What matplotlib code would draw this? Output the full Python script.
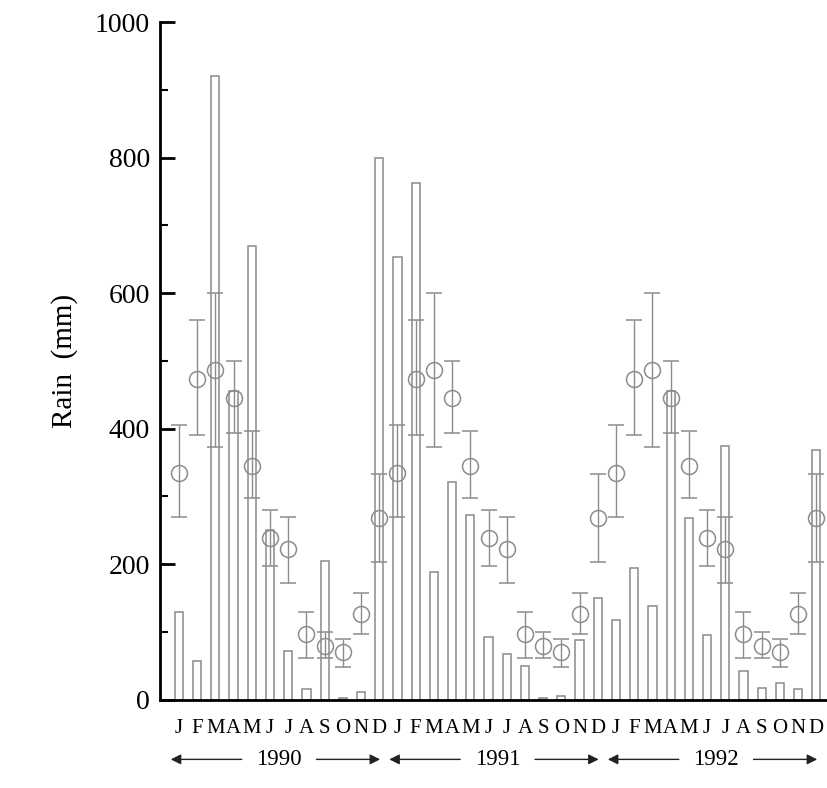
import matplotlib.pyplot as plt
import numpy as np

plt.rcParams['font.family'] = ['Liberation Serif', 'DejaVu Serif']

months = list("JFMAMJJASOND")
years = ["1990", "1991", "1992"]

# monthly rainfall (mm)
rain_1990 = [130, 57, 920, 455, 670, 250, 72, 16, 204, 3, 11, 800]
rain_1991 = [653, 763, 188, 321, 272, 93, 68, 50, 2, 5, 88, 150]
rain_1992 = [117, 195, 139, 455, 268, 96, 374, 43, 18, 25, 16, 368]

# long-term monthly mean and spread
mean_rain = [335, 473, 487, 445, 345, 238, 222, 97, 80, 70, 127, 268]
err_low = [270, 390, 373, 393, 297, 197, 173, 62, 62, 48, 97, 203]
err_high = [405, 560, 600, 500, 397, 280, 270, 130, 100, 90, 157, 333]

rain = rain_1990 + rain_1991 + rain_1992
x = np.arange(len(rain))
mean_all = np.array(mean_rain * 3)
lo_all = np.array(err_low * 3)
hi_all = np.array(err_high * 3)

fig = plt.figure(figsize=(8.28, 7.88), dpi=100)
ax = fig.add_axes([0.193, 0.112, 0.805, 0.860])

ax.bar(x, rain, width=0.45, facecolor='white', edgecolor='#8a8a8a',
       linewidth=1.1, zorder=2)
ax.errorbar(x, mean_all, yerr=[mean_all - lo_all, hi_all - mean_all],
            fmt='o', ms=11.5, mfc='none', mec='#8c8c8c', mew=1.1,
            ecolor='#8c8c8c', elinewidth=1.0, capsize=5.5, capthick=1.6,
            zorder=3)

ax.set_xlim(-1.05, 35.55)
ax.set_ylim(0, 1000)
ax.set_yticks(np.arange(0, 1001, 200))
ax.set_yticks(np.arange(100, 1000, 200), minor=True)
ax.tick_params(axis='y', which='major', direction='in', length=11, width=2,
               labelsize=20, pad=7)
ax.tick_params(axis='y', which='minor', direction='in', length=6, width=1.5)
ax.set_xticks(x)
ax.set_xticklabels(months * 3)
ax.tick_params(axis='x', length=0, labelsize=15, pad=14)
for s in ['top', 'right']:
    ax.spines[s].set_visible(False)
ax.spines['left'].set_linewidth(2)
ax.spines['bottom'].set_linewidth(2)
ax.set_ylabel("Rain  (mm)", fontsize=21, labelpad=12)

# year spans under the month letters
trans = ax.get_xaxis_transform()
for i, yr in enumerate(years):
    c = 12 * i + 5.5
    ax.text(c, -0.088, yr, transform=trans, ha='center', va='center',
            fontsize=16.5, clip_on=False)
    arrow = dict(arrowstyle='-|>', color='#222222', lw=1.0,
                 mutation_scale=15)
    ax.annotate('', xy=(12 * i - 0.6, -0.088), xytext=(c - 1.9, -0.088),
                xycoords=trans, textcoords=trans, arrowprops=arrow,
                annotation_clip=False)
    ax.annotate('', xy=(12 * i + 11.2, -0.088), xytext=(c + 1.9, -0.088),
                xycoords=trans, textcoords=trans, arrowprops=arrow,
                annotation_clip=False)

fig.savefig('out.png', dpi=100)
